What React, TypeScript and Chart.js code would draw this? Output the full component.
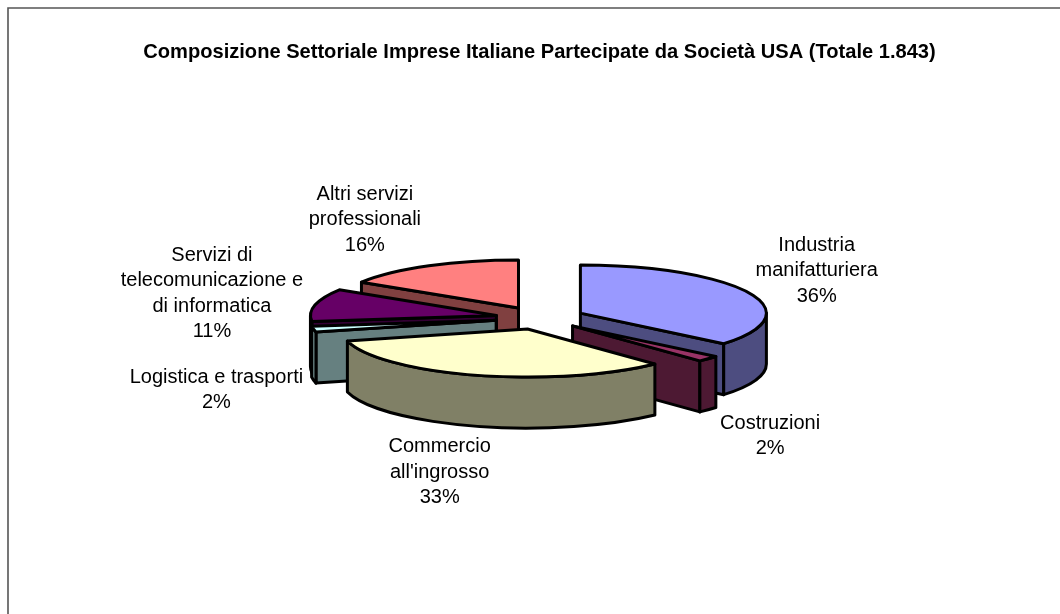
import React, { useEffect, useRef } from "react";
import { Chart, registerables } from "chart.js";

Chart.register(...registerables);

const TITLE = "Composizione Settoriale Imprese Italiane Partecipate da Società USA (Totale 1.843)";
const CATEGORIES = [
  "Industria manifatturiera",
  "Costruzioni",
  "Commercio all'ingrosso",
  "Logistica e trasporti",
  "Servizi di telecomunicazione e di informatica",
  "Altri servizi professionali",
];
const VALUES = [36, 2, 33, 2, 11, 16];
const LABEL_LINES = [
  ["Industria", "manifatturiera"],
  ["Costruzioni"],
  ["Commercio", "all'ingrosso"],
  ["Logistica e trasporti"],
  ["Servizi di", "telecomunicazione e", "di informatica"],
  ["Altri servizi", "professionali"],
];
const TOP_COLORS = ["#9999FF", "#993366", "#FFFFCC", "#CCFFFF", "#660066", "#FF8080"];
const SIDE_COLORS = ["#4D4D80", "#4D1933", "#808066", "#668080", "#330033", "#804040"];
const LABEL_NUDGE = [[68, -22], [62, 77], [-36, 97], [-97, 61], [-103, -11.5], [-64, -46]];

const PIE = { cx: 540, cy: 318, rx: 186, ry: 48, depth: 51, explode: 0.24 };
const FONT = '20px "Liberation Sans", Arial, sans-serif';
const LINE_H = 25.5;

const pie3d = {
  id: "pie3d",
  beforeDraw(chart: any) {
    const { ctx } = chart;
    ctx.save();
    ctx.fillStyle = "#fff";
    ctx.fillRect(0, 0, chart.width, chart.height);
    ctx.strokeStyle = "#555";
    ctx.lineWidth = 1.6;
    ctx.beginPath();
    ctx.moveTo(8, 620);
    ctx.lineTo(8, 8);
    ctx.lineTo(1060, 8);
    ctx.stroke();
    ctx.restore();
  },
  beforeDatasetsDraw(chart: any) {
    const { ctx } = chart;
    const { cx, cy, rx, ry, depth, explode } = PIE;
    const arcs = chart.getDatasetMeta(0).data as any[];
    const order = arcs
      .map((arc, i) => ({ arc, i, mid: (arc.startAngle + arc.endAngle) / 2 }))
      .sort((a, b) => Math.sin(a.mid) - Math.sin(b.mid));

    ctx.save();
    ctx.lineJoin = "round";
    ctx.strokeStyle = "#000";
    ctx.lineWidth = 3;
    for (const { arc, i, mid } of order) {
      const a0 = arc.startAngle;
      const a1 = arc.endAngle;
      const ox = cx + explode * rx * Math.cos(mid);
      const oy = cy + explode * ry * Math.sin(mid);
      const px = (a: number) => ox + rx * Math.cos(a);
      const py = (a: number) => oy + ry * Math.sin(a);

      const wall = (a: number) => {
        ctx.beginPath();
        ctx.moveTo(ox, oy);
        ctx.lineTo(px(a), py(a));
        ctx.lineTo(px(a), py(a) + depth);
        ctx.lineTo(ox, oy + depth);
        ctx.closePath();
        ctx.fillStyle = SIDE_COLORS[i];
        ctx.fill();
        ctx.stroke();
      };
      if (Math.cos(a0) < 0) wall(a0);
      if (Math.cos(a1) > 0) wall(a1);

      // Curved outer wall: the part of the rim that faces the viewer.
      const rims = [
        [Math.max(a0, 0), Math.min(a1, Math.PI)],
        [Math.max(a0, 2 * Math.PI), Math.min(a1, 3 * Math.PI)],
      ];
      for (const [s, e] of rims) {
        if (e <= s) continue;
        ctx.beginPath();
        ctx.ellipse(ox, oy, rx, ry, 0, s, e);
        ctx.lineTo(px(e), py(e) + depth);
        ctx.ellipse(ox, oy + depth, rx, ry, 0, e, s, true);
        ctx.closePath();
        ctx.fillStyle = SIDE_COLORS[i];
        ctx.fill();
        ctx.stroke();
      }

      // Top face: the library's own arc element, squashed into an ellipse.
      ctx.save();
      ctx.translate(ox, oy);
      ctx.scale(rx / arc.outerRadius, ry / arc.outerRadius);
      ctx.translate(-arc.x, -arc.y);
      arc.draw(ctx);
      ctx.restore();

      ctx.beginPath();
      ctx.moveTo(ox, oy);
      ctx.ellipse(ox, oy, rx, ry, 0, a0, a1);
      ctx.closePath();
      ctx.stroke();
    }
    ctx.restore();
    return false;
  },
  afterDraw(chart: any) {
    const { ctx } = chart;
    const { cx, cy, rx, ry, explode } = PIE;
    const arcs = chart.getDatasetMeta(0).data as any[];
    ctx.save();
    ctx.font = FONT;
    ctx.fillStyle = "#000";
    ctx.textAlign = "center";
    ctx.textBaseline = "middle";
    arcs.forEach((arc, i) => {
      const mid = (arc.startAngle + arc.endAngle) / 2;
      const x = cx + (1 + explode) * rx * Math.cos(mid) + LABEL_NUDGE[i][0];
      const y = cy + (1 + explode) * ry * Math.sin(mid) + LABEL_NUDGE[i][1];
      const lines = [...LABEL_LINES[i], `${VALUES[i]}%`];
      lines.forEach((t, k) => {
        ctx.fillText(t, x, y + (k - (lines.length - 1) / 2) * LINE_H);
      });
    });
    ctx.restore();
  },
};

export default function App() {
  const ref = useRef<HTMLCanvasElement>(null);
  useEffect(() => {
    const chart = new Chart(ref.current as HTMLCanvasElement, {
      type: "pie",
      data: {
        labels: CATEGORIES,
        datasets: [{ data: VALUES, backgroundColor: TOP_COLORS, borderWidth: 0 }],
      },
      options: {
        responsive: false,
        animation: false,
        devicePixelRatio: 1,
        layout: { padding: { left: 19, top: 0 } },
        plugins: {
          legend: { display: false },
          tooltip: { enabled: false },
          title: {
            display: true,
            text: TITLE,
            color: "#000",
            font: { family: '"Liberation Sans", Arial, sans-serif', size: 20.1, weight: "bold" },
            padding: { top: 40, bottom: 10 },
          },
        },
      },
      plugins: [pie3d],
    } as any);
    return () => chart.destroy();
  }, []);
  return (
    <canvas
      ref={ref}
      width={1060}
      height={614}
      style={{ position: "absolute", left: 0, top: 0, display: "block" }}
    />
  );
}
